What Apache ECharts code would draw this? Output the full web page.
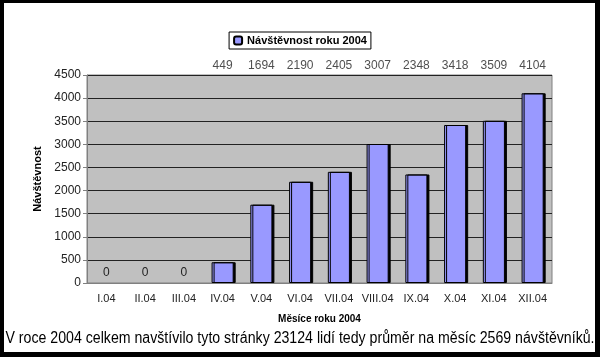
<!DOCTYPE html>
<html><head><meta charset="utf-8">
<script src="https://cdn.jsdelivr.net/npm/echarts@6/dist/echarts.min.js"></script>
<style>html,body{margin:0;padding:0;background:#000;}#c{width:600px;height:357px;}</style>
</head><body><div id="c"></div>
<script>
const categories = ['I.04','II.04','III.04','IV.04','V.04','VI.04','VII.04','VIII.04','IX.04','X.04','XI.04','XII.04'];
const visits = [0,0,0,449,1694,2190,2405,3007,2348,3418,3509,4104];
const yMax = 4500;
const yStep = 500;
const seriesName = 'Návštěvnost roku 2004';
const caption = 'V roce 2004 celkem navštívilo tyto stránky 23124 lidí tedy průměr na měsíc 2569 návštěvníků.';

const font = 'Arial, "Liberation Sans", sans-serif';
const capFont = '16px Arial, "Liberation Sans", sans-serif';
const ctx = document.createElement('canvas').getContext('2d');
ctx.font = capFont;
const capW = ctx.measureText(caption).width;
const capTarget = 589;
const capScale = capTarget / capW;

const chart = echarts.init(document.getElementById('c'), null, {renderer:'canvas'});
chart.setOption({
  backgroundColor: '#000',
  animation: false,
  textStyle: {fontFamily: font},
  graphic: [
    {type:'rect', z:-10, shape:{x:4,y:3,width:591,height:349}, style:{fill:'#fff'}},
    {type:'text', x: 300, y: 339, scaleX: capScale, originX: 0, originY: 0,
     style:{text:caption, font:capFont, fill:'#000', align:'center', verticalAlign:'middle'}}
  ],
  legend: {
    top: 32, left: 'center',
    data: [seriesName],
    itemWidth: 8, itemHeight: 8, itemGap: 4,
    padding: [3,4,3,4],
    borderColor: '#000', borderWidth: 1, backgroundColor: '#fff', borderRadius: 0,
    textStyle: {fontWeight:'bold', fontSize: 11, color:'#000', fontFamily: font},
    selectedMode: false
  },
  grid: {left: 87, right: 48, top: 75, bottom: 74, show: true, backgroundColor: '#C0C0C0', borderColor: '#808080', borderWidth: 1},
  xAxis: {
    type: 'category', data: categories,
    name: 'Měsíce roku 2004', nameLocation: 'middle', nameGap: 31,
    nameTextStyle: {fontWeight:'bold', fontSize: 10, color:'#000'},
    axisLine: {lineStyle:{color:'#808080'}},
    axisTick: {length: 4, lineStyle:{color:'#808080'}},
    axisLabel: {fontSize: 11, color:'#222', margin: 10, interval: 0, hideOverlap: false}
  },
  yAxis: {
    type: 'value', min: 0, max: yMax, interval: yStep,
    name: 'Návštěvnost', nameLocation: 'middle', nameGap: 42,
    nameTextStyle: {fontWeight:'bold', fontSize: 11, color:'#000'},
    axisLine: {show: true, lineStyle:{color:'#808080'}},
    axisTick: {show: true, length: 4, lineStyle:{color:'#808080'}},
    axisLabel: {fontSize: 12, color:'#222', margin: 6, formatter: v => String(v)},
    splitLine: {lineStyle:{color:'#222', width: 1}}
  },
  series: [
    {
      name: seriesName, type: 'bar', barWidth: '57%',
      data: visits.map(v => v === 0 ? {value: v, itemStyle: {color: 'rgba(0,0,0,0)', borderWidth: 0, shadowColor: 'rgba(0,0,0,0)'}} : v),
      itemStyle: {color:'#9999FF', borderColor:'#000', borderWidth: 1, shadowColor:'#000', shadowOffsetX: 2, shadowOffsetY: 0, shadowBlur: 0},
      label: {show: true, position: 'top', distance: 4, fontSize: 12, color:'#222',
        formatter: p => p.value === 0 ? '0' : ''}
    },
    {
      type: 'scatter', symbolSize: 0, silent: true,
      data: visits.map((v,i) => v > 0 ? [categories[i], yMax] : null).filter(d => d),
      label: {show: true, position: 'top', distance: 3, fontSize: 12, color:'#222',
        formatter: p => String(visits[categories.indexOf(p.value[0])])}
    }
  ]
});
</script></body></html>
